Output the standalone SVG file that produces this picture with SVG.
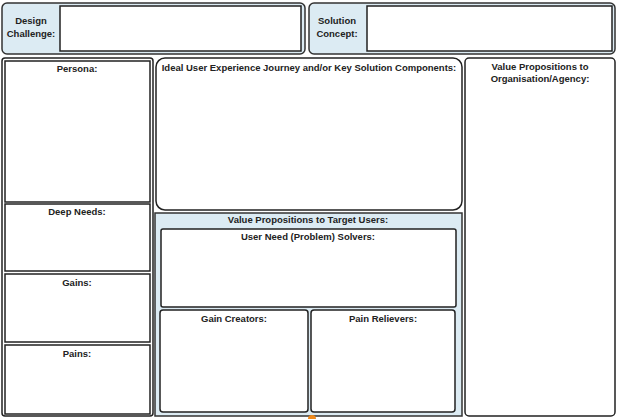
<svg xmlns="http://www.w3.org/2000/svg" width="618" height="419" viewBox="0 0 618 419">
<style>
.b{fill:#fff;stroke:#222;stroke-width:1.5}
.p{fill:#dcebf3;stroke:#333;stroke-width:1.5}
text{font-family:"Liberation Sans",Arial,sans-serif;font-weight:bold;font-size:9.5px;fill:#222;text-anchor:middle}
</style>
<rect width="618" height="419" fill="#fff"/>
<g id="design-challenge">
<rect class="p" x="2" y="3" width="303" height="51" rx="5"/>
<rect class="b" x="60" y="6" width="241" height="45"/>
<text x="31" y="24">Design</text><text x="31" y="37">Challenge:</text>
</g>
<g id="solution-concept">
<rect class="p" x="309" y="3" width="306" height="51" rx="5"/>
<rect class="b" x="367" y="6" width="245" height="45"/>
<text x="337" y="24">Solution</text><text x="337" y="37">Concept:</text>
</g>
<g id="left-column">
<rect class="b" x="2" y="58" width="151" height="358" rx="3"/>
</g>
<g id="persona"><rect class="b" x="5" y="61" width="145" height="141"/><text x="77" y="72">Persona:</text></g>
<g id="deep-needs"><rect class="b" x="5" y="204" width="145" height="67"/><text x="77" y="215">Deep Needs:</text></g>
<g id="gains"><rect class="b" x="5" y="274" width="145" height="68"/><text x="77" y="286">Gains:</text></g>
<g id="pains"><rect class="b" x="5" y="345" width="145" height="69"/><text x="77" y="357">Pains:</text></g>
<g id="journey"><rect class="b" x="156" y="58" width="306" height="152" rx="9"/><text x="309" y="71">Ideal User Experience Journey and/or Key Solution Components:</text></g>
<g id="value-users">
<rect class="p" x="155" y="213" width="307" height="203"/>
<text x="308" y="223">Value Propositions to Target Users:</text>
</g>
<g id="need-solvers"><rect class="b" x="161" y="229" width="295" height="78" rx="2"/><text x="308" y="240">User Need (Problem) Solvers:</text></g>
<g id="gain-creators"><rect class="b" x="160" y="310" width="148" height="102" rx="3"/><text x="234" y="322">Gain Creators:</text></g>
<g id="pain-relievers"><rect class="b" x="311" y="310" width="144" height="102" rx="3"/><text x="383" y="322">Pain Relievers:</text></g>
<g id="value-org"><rect class="b" x="465" y="58" width="150" height="358" rx="4"/><text x="540" y="70">Value Propositions to</text><text x="540" y="82">Organisation/Agency:</text></g>
<circle cx="312" cy="419" r="4" fill="#f08a1c"/>
</svg>
